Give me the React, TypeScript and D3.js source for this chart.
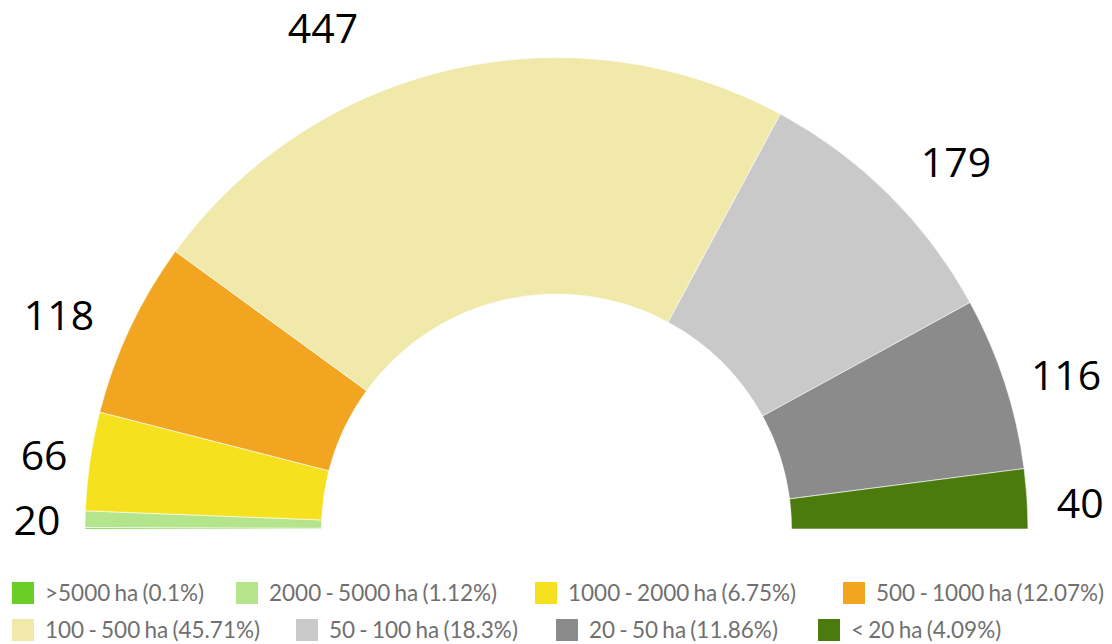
import React from "react";
import * as d3 from "d3";

const categories = [
  ">5000 ha",
  "2000 - 5000 ha",
  "1000 - 2000 ha",
  "500 - 1000 ha",
  "100 - 500 ha",
  "50 - 100 ha",
  "20 - 50 ha",
  "< 20 ha",
];
const values = [1, 11, 66, 118, 447, 179, 116, 40];
const percents = ["0.1%", "1.12%", "6.75%", "12.07%", "45.71%", "18.3%", "11.86%", "4.09%"];
const colors = ["#6acd28", "#b4e58d", "#f6e11f", "#f2a521", "#f0e9aa", "#c9c9c9", "#8b8b8b", "#4a7b0c"];

// Annotations printed around the arc (as in the source picture)
const labelTexts = ["20", "66", "118", "447", "179", "116", "40"];

// Layout (not data): label anchors as angle from the left (deg) and radius factor
const labelAnchors = [
  { a: 1.0, r: 1.102 },
  { a: 8.2, r: 1.098 },
  { a: 23.3, r: 1.149 },
  { a: 65.0, r: 1.172 },
  { a: 137.4, r: 1.151 },
  { a: 163.2, r: 1.129 },
  { a: 177.2, r: 1.112 },
];

// Legend layout: two rows, four items each
const legendX = [12, 236, 535, 843, 12, 296, 556, 818];
const legendRowY = [582, 619];

const W = 1112;
const H = 644;
const cx = 556.5;
const cy = 529;
const outerR = 471.5;
const innerR = 235;

export default function App() {
  const pie = d3
    .pie<number>()
    .sort(null)
    .startAngle(-Math.PI / 2)
    .endAngle(Math.PI / 2)
    .value((d) => d);
  const arcs = pie(values);
  const arcGen = d3.arc<d3.PieArcDatum<number>>().innerRadius(innerR).outerRadius(outerR);

  return (
    <svg
      width={W}
      height={H}
      style={{ position: "absolute", left: 0, top: 0, background: "#fff" }}
    >
      <g transform={`translate(${cx},${cy})`}>
        {arcs.map((a, i) => (
          <path key={i} d={arcGen(a) || ""} fill={colors[i]} stroke="#ffffff" strokeWidth={1} strokeOpacity={0.6} />
        ))}
      </g>
      {labelTexts.map((t, i) => {
        const ang = (labelAnchors[i].a * Math.PI) / 180;
        const rr = labelAnchors[i].r * outerR;
        const x = cx - rr * Math.cos(ang);
        const y = cy - rr * Math.sin(ang);
        return (
          <text
            key={i}
            x={x}
            y={y + 15}
            textAnchor="middle"
            fontFamily="'Open Sans', sans-serif"
            fontSize={41}
            fill="#000"
          >
            {t}
          </text>
        );
      })}
      {categories.map((c, i) => {
        const x = legendX[i];
        const y = legendRowY[Math.floor(i / 4)];
        return (
          <g key={c}>
            <rect x={x} y={y} width={22} height={22} fill={colors[i]} />
            <text
              x={x + 33}
              y={y + 19}
              fontFamily="Lato, sans-serif"
              fontSize={22.5}
              wordSpacing={-1.5}
              fill="#707070"
            >
              {`${c} (${percents[i]})`}
            </text>
          </g>
        );
      })}
    </svg>
  );
}
